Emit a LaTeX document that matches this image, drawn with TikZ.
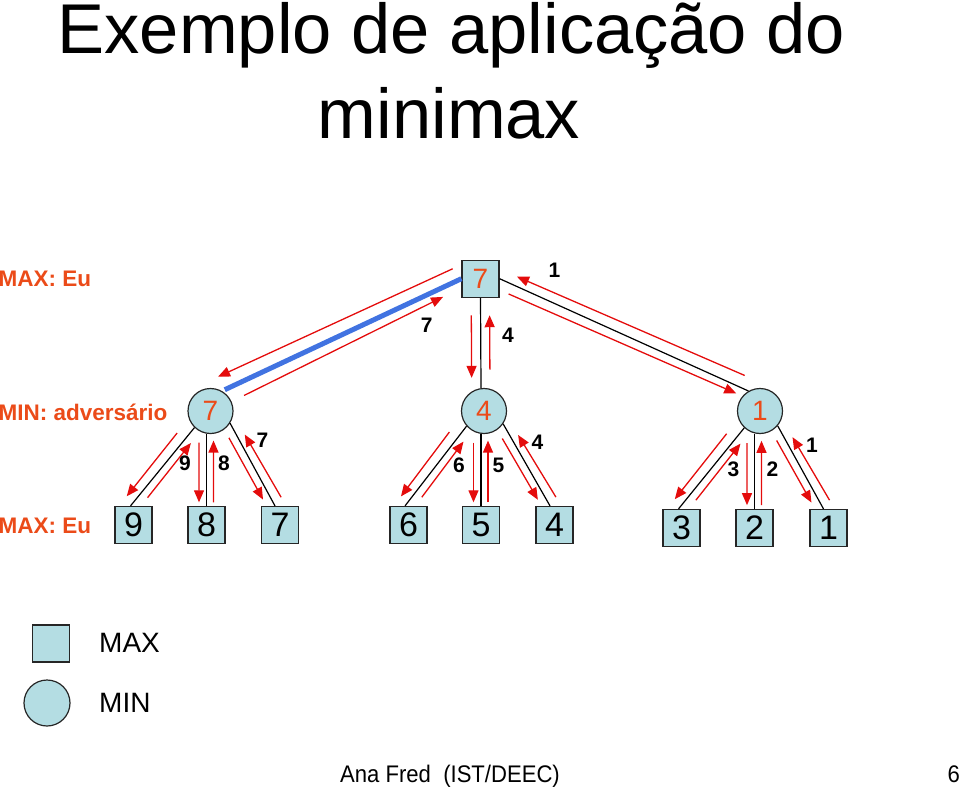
\documentclass[tikz,border=0pt]{standalone}
\usepackage{fontspec}
\setmainfont{Liberation Sans}
\usetikzlibrary{arrows.meta,calc}
\definecolor{nodefill}{RGB}{180,221,227}
\definecolor{valorange}{RGB}{235,75,25}
\definecolor{flowred}{RGB}{228,12,12}
\definecolor{pathblue}{RGB}{65,115,225}
\newcommand\fsz[1]{\fontsize{#1}{#1}\selectfont}
% arrow parallel to edge S->E: from fraction #3 (offset #4) to fraction #5 (offset #6)
\newcommand\flowarrow[6]{%
  \path ($(#1)!#3!(#2)$) coordinate (fa) ($(#1)!#5!(#2)$) coordinate (fb);
  \draw[flow] ($(fa)!#4pt!90:(#2)$) -- ($(fb)!#6pt!90:(#2)$);}
\newcommand\leftflows[2]{\flowarrow{#1}{#2}{0.15}{-10}{0.95}{-9}\flowarrow{#1}{#2}{0.83}{8}{0.14}{7}}
\newcommand\midflows[2]{\flowarrow{#1}{#2}{0.12}{-7.5}{0.95}{-7.5}\flowarrow{#1}{#2}{0.95}{7}{0.09}{7}}
\newcommand\rightflows[2]{\flowarrow{#1}{#2}{0.13}{-8}{0.88}{-7.5}\flowarrow{#1}{#2}{0.95}{9.5}{0.18}{7.5}}
\tikzset{
  maxnode/.style={rectangle, draw=black!85, line width=1.2pt, fill=nodefill, minimum size=37pt, inner sep=0pt},
  minnode/.style={circle, draw=black!85, line width=1.2pt, fill=nodefill, minimum size=45pt, inner sep=0pt},
  inval/.style={text=valorange, font=\fsz{28}},
  leafval/.style={font=\fsz{34}},
  edge/.style={line width=1.2pt, black},
  bestedge/.style={line width=5pt, pathblue},
  flow/.style={flowred, line width=1.3pt, -{Triangle[length=12pt,width=10pt]}},
  val/.style={inner sep=0pt, font=\fsz{21}\bfseries},
  side/.style={inner sep=0pt, anchor=base west, text=valorange, font=\fsz{22.5}\bfseries},
}
\begin{document}
\begin{tikzpicture}[x=1pt, y=-1pt]
\useasboundingbox (0,0) rectangle (960,789);
% title
\node[anchor=base, inner sep=0pt, font=\fsz{70.5}] (t1) at (451.5,54) {Exemplo de aplicação do};
\node[anchor=base, inner sep=0pt, font=\fsz{70.5}] (t2) at (449,138) {minimax};
% side labels
\node[side] (lmax1) at (-1.5,286) {MAX: Eu};
\node[side] (lmin) at (-1.5,420) {MIN: adversário};
\node[side] (lmax2) at (-1.5,533) {MAX: Eu};
% tree nodes
\node[maxnode, inval] (root) at (480.5,278.7) {7};
\node[minnode, inval] (mL) at (210.5,411) {7};
\node[minnode, inval] (mM) at (484,411) {4};
\node[minnode, inval] (mR) at (760,411) {1};
\node[maxnode, leafval] (l9) at (133.5,525) {9};
\node[maxnode, leafval] (l8) at (206.5,525) {8};
\node[maxnode, leafval] (l7) at (280,525) {7};
\node[maxnode, leafval] (l6) at (408.5,525) {6};
\node[maxnode, leafval] (l5) at (481,525) {5};
\node[maxnode, leafval] (l4) at (554.5,525) {4};
\node[maxnode, leafval] (l3) at (681.5,528) {3};
\node[maxnode, leafval] (l2) at (754.5,528) {2};
\node[maxnode, leafval] (l1) at (828.5,528) {1};
% edge end points
\coordinate (aS) at (root.west);  \coordinate (aE) at (mL.60);
\coordinate (bS) at (root.south); \coordinate (bE) at ([xshift=-3pt]mM.north);
\coordinate (cS) at (root.east);  \coordinate (cE) at (mR.120);
\coordinate (s9) at (mL.226); \coordinate (e9) at ([xshift=-3pt]l9.north);
\coordinate (s8) at (mL.south -| l8.north); \coordinate (e8) at (l8.north);
\coordinate (s7) at (mL.-32); \coordinate (e7) at ([xshift=-5pt]l7.north);
\coordinate (s6) at (mM.221); \coordinate (e6) at ([xshift=-3.5pt]l6.north);
\coordinate (s5) at (mM.south -| l5.north); \coordinate (e5) at (l5.north);
\coordinate (s4) at (mM.-34); \coordinate (e4) at ([xshift=-4.5pt]l4.north);
\coordinate (s3) at (mR.227); \coordinate (e3) at ([xshift=-3pt]l3.north);
\coordinate (s2) at (mR.south -| l2.north); \coordinate (e2) at (l2.north);
\coordinate (s1) at (mR.-40); \coordinate (e1) at ([xshift=-5pt]l1.north);
% edges
\draw[bestedge, shorten >=3pt] (aS) -- (aE);
\draw[edge] (bS) -- (bE);
\draw[edge] (cS) -- (cE);
\foreach \k in {9,8,7,6,5,4,3,2,1} {\draw[edge] (s\k) -- (e\k);}
% flow arrows
\flowarrow{aS}{aE}{0.014}{-12.7}{0.991}{-14.6}
\flowarrow{aS}{aE}{0.932}{13.4}{0.092}{8.7}
\flowarrow{bS}{bE}{0.194}{-9.3}{0.888}{-9.3}
\flowarrow{bS}{bE}{0.797}{9}{0.194}{9}
\flowarrow{cS}{cE}{0.964}{12.6}{0.055}{9}
\flowarrow{cS}{cE}{0.053}{-10.2}{0.963}{-7.2}
\leftflows{s9}{e9}\midflows{s8}{e8}\rightflows{s7}{e7}
\leftflows{s6}{e6}\midflows{s5}{e5}\rightflows{s4}{e4}
\leftflows{s3}{e3}\midflows{s2}{e2}\rightflows{s1}{e1}
% backed-up values
\node[val] (vA) at (426.7,325.5) {7};
\node[val] (vB) at (508,335.5) {4};
\node[val] (vC) at (554.5,270.5) {1};
\node[val] (v9) at (185,463.5) {9};
\node[val] (v8) at (224,463.5) {8};
\node[val] (v7) at (262.5,440) {7};
\node[val] (v6) at (459,465.5) {6};
\node[val] (v5) at (498.5,465.5) {5};
\node[val] (v4) at (537.5,442.5) {4};
\node[val] (v3) at (733.5,469) {3};
\node[val] (v2) at (772.5,469) {2};
\node[val] (v1) at (812,445.5) {1};
% legend
\node[maxnode] (legmax) at (51,643.5) {};
\node[minnode, minimum size=46pt] (legmin) at (47,703) {};
\node[anchor=west, inner sep=0pt, font=\fsz{28}] (legmaxt) at (99,643.3) {MAX};
\node[anchor=west, inner sep=0pt, font=\fsz{28}] (legmint) at (99,703.3) {MIN};
% footer
\node[anchor=base west, inner sep=0pt, font=\fsz{24}] (foot) at (340,782) {\scalebox{0.92}[1]{Ana Fred\ \ (IST/DEEC)}};
\node[anchor=base east, inner sep=0pt, font=\fsz{24}] (page) at (960,782) {\scalebox{0.92}[1]{6}};
\end{tikzpicture}
\end{document}
